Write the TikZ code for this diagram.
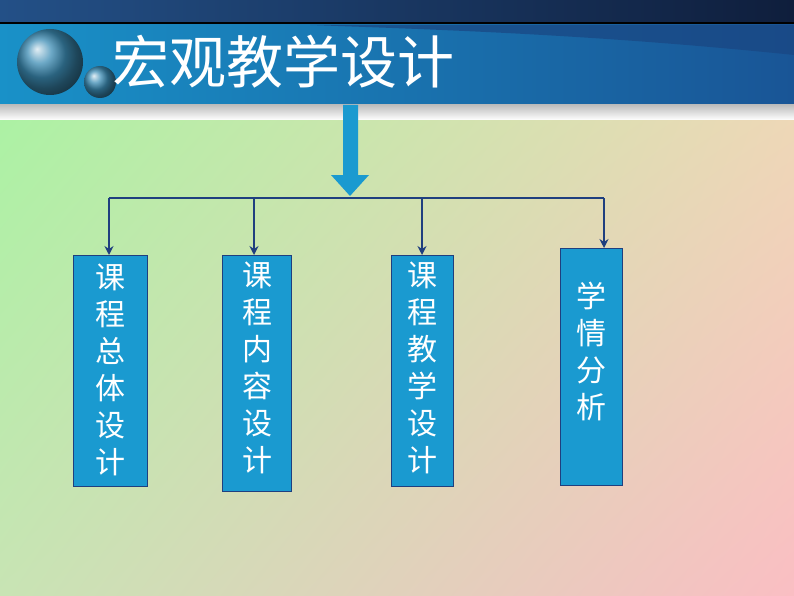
\documentclass[tikz,border=0pt]{standalone}
\usepackage{fontspec}
\newfontfamily\cjk{Noto Sans CJK SC}
\newfontfamily\cjkb{Noto Sans CJK SC Bold}
\usetikzlibrary{arrows.meta,shadings}
\definecolor{boxblue}{HTML}{1A9AD0}
\definecolor{navy}{HTML}{1F3F7F}
\definecolor{bgul}{RGB}{165,245,160}
\definecolor{bgur}{RGB}{235,222,180}
\definecolor{bgll}{RGB}{200,228,180}
\definecolor{bglr}{RGB}{250,190,195}
\definecolor{topl}{RGB}{35,80,135}
\definecolor{topr}{RGB}{15,30,60}
\definecolor{thin}{RGB}{200,240,200}
\definecolor{headl}{RGB}{25,145,200}
\definecolor{headr}{RGB}{25,85,150}
\definecolor{wedge}{RGB}{25,70,130}
\definecolor{stripg}{RGB}{190,190,190}
\definecolor{sph}{RGB}{60,140,180}
\tikzset{
  boxnode/.style={draw=navy,line width=1pt,fill=boxblue,anchor=north west,inner sep=0pt},
  vtext/.style={text=white,font=\cjk\fontsize{30}{37}\selectfont,align=center,anchor=north},
  link/.style={navy,line width=2.5pt},
  linkarrow/.style={navy,line width=2.5pt,-{Stealth[length=9pt,width=9pt]}}
}
\begin{document}
\begin{tikzpicture}[x=1pt,y=-1pt]
\useasboundingbox (0,0) rectangle (794,596);
\shade[upper left=bgul,upper right=bgur,lower left=bgll,lower right=bglr] (0,0) rectangle (794,596);
\shade[left color=topl,right color=topr] (0,0) rectangle (794,22);
\fill[thin] (0,22) rectangle (794,25);
\shade[left color=headl,right color=headr] (0,25) rectangle (794,105);
\fill[wedge,opacity=0.7] (310,25) -- (794,25) -- (794,55) .. controls (600,35) and (450,30) .. cycle;
\shade[top color=stripg,bottom color=white] (0,105) rectangle (794,120);
\shade[ball color=sph] (50,62) circle (33);
\shade[ball color=sph] (100,82) circle (16);
\node[text=white,font=\cjk\fontsize{57}{60}\selectfont,anchor=west,inner sep=0pt] (title) at (112,62) {宏观教学设计};
\fill[boxblue] (343,105) -- (358,105) -- (358,175) -- (369,175) -- (350,196) -- (331,175) -- (343,175) -- cycle;
\node[boxnode,minimum width=74pt,minimum height=231pt] (b1) at (73,255) {};
\node[boxnode,minimum width=69pt,minimum height=236pt] (b2) at (222,255) {};
\node[boxnode,minimum width=62pt,minimum height=231pt] (b3) at (391,255) {};
\node[boxnode,minimum width=62pt,minimum height=237pt] (b4) at (560,248) {};
\node[vtext] (t1) at ([yshift=-5pt]b1.north) {课\\程\\总\\体\\设\\计};
\node[vtext] (t2) at ([yshift=-3pt]b2.north) {课\\程\\内\\容\\设\\计};
\node[vtext] (t3) at ([yshift=-3pt]b3.north) {课\\程\\教\\学\\设\\计};
\node[vtext] (t4) at ([yshift=-30pt]b4.north) {学\\情\\分\\析};
\coordinate (c1) at (109,198);
\coordinate (c2) at (254,198);
\coordinate (c3) at (422,198);
\coordinate (c4) at (604,198);
\draw[link] (c1) -- (c4);
\draw[linkarrow] (c1) -- (c1 |- b1.north);
\draw[linkarrow] (c2) -- (c2 |- b2.north);
\draw[linkarrow] (c3) -- (c3 |- b3.north);
\draw[linkarrow] (c4) -- (c4 |- b4.north);
\end{tikzpicture}
\end{document}
